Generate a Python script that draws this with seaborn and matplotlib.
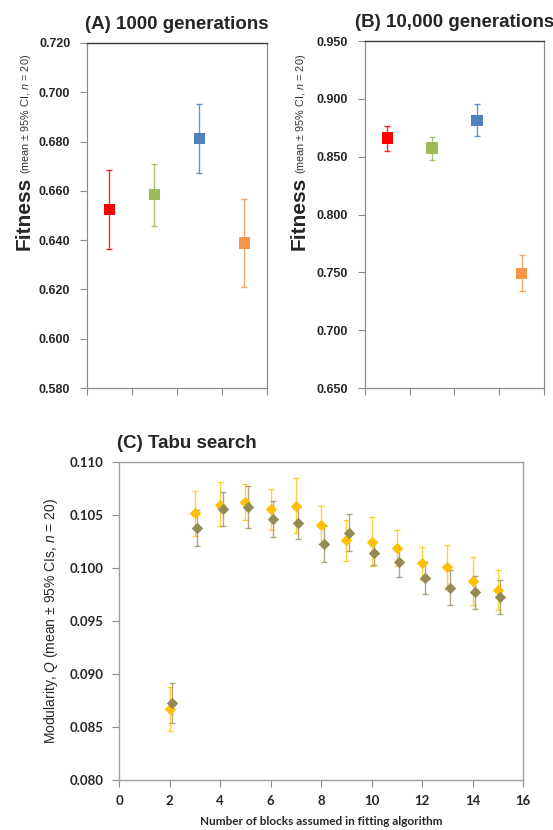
import numpy as np
import pandas as pd
import matplotlib
matplotlib.use("Agg")
import matplotlib.pyplot as plt
import seaborn as sns

# --------------------------
# Data
# --------------------------

groups = ["G1", "G2", "G3", "G4"]
group_colors = ["#ff0000", "#9bbb59", "#4f81bd", "#f79646"]

# (A) 1000 generations
fit_1000 = [0.6525, 0.6585, 0.6812, 0.6388]
fit_1000_lo = [0.6365, 0.6457, 0.6671, 0.6211]
fit_1000_hi = [0.6685, 0.6708, 0.6952, 0.6567]

# (B) 10,000 generations
fit_10000 = [0.8664, 0.8575, 0.8814, 0.7491]
fit_10000_lo = [0.8552, 0.8474, 0.8682, 0.7339]
fit_10000_hi = [0.8765, 0.8670, 0.8952, 0.7647]

# (C) Tabu search
blocks = [2, 3, 4, 5, 6, 7, 8, 9, 10, 11, 12, 13, 14, 15]
q_yellow = [0.08667, 0.10519, 0.10598, 0.10619, 0.10553, 0.10585, 0.10403,
            0.10261, 0.10245, 0.10186, 0.10044, 0.10010, 0.09874, 0.09792]
q_yellow_lo = [0.08462, 0.10305, 0.10393, 0.10456, 0.10358, 0.10327, 0.10226,
               0.10069, 0.10019, 0.10019, 0.09884, 0.09799, 0.09648, 0.09607]
q_yellow_hi = [0.08877, 0.10730, 0.10808, 0.10790, 0.10748, 0.10852, 0.10585,
               0.10456, 0.10481, 0.10358, 0.10201, 0.10220, 0.10104, 0.09984]
q_olive = [0.08730, 0.10374, 0.10553, 0.10572, 0.10462, 0.10421, 0.10230,
           0.10333, 0.10138, 0.10053, 0.09906, 0.09811, 0.09774, 0.09730]
q_olive_lo = [0.08540, 0.10208, 0.10393, 0.10377, 0.10292, 0.10277, 0.10060,
              0.10157, 0.10028, 0.09915, 0.09752, 0.09648, 0.09616, 0.09563]
q_olive_hi = [0.08920, 0.10547, 0.10714, 0.10774, 0.10635, 0.10579, 0.10396,
              0.10513, 0.10252, 0.10182, 0.10060, 0.09978, 0.09928, 0.09887]
olive_shift = 0.1

# --------------------------
# Style
# --------------------------

sns.set_style("white")
plt.rcParams["font.family"] = ["Liberation Sans", "DejaVu Sans"]
plt.rcParams["mathtext.fontset"] = "custom"
plt.rcParams["mathtext.rm"] = "Liberation Sans"
plt.rcParams["mathtext.it"] = "Liberation Sans:italic"
plt.rcParams["mathtext.bf"] = "Liberation Sans:bold"

spine_grey = "#8c8c8c"
fig = plt.figure(figsize=(5.53, 8.30), dpi=100)

ax_a = fig.add_axes([0.1573, 0.5325, 0.3255, 0.4157])
ax_b = fig.add_axes([0.6600, 0.5325, 0.3237, 0.4180])
ax_c = fig.add_axes([0.2152, 0.0602, 0.7306, 0.3831])


def fitness_panel(ax, means, lo, hi, ylim, step, title, label_x, label_y):
    df = pd.DataFrame({"group": groups, "fitness": means})
    for g, m, l, h, c in zip(groups, means, lo, hi, group_colors):
        ax.errorbar(g, m, yerr=[[m - l], [h - m]], fmt="none", ecolor=c,
                    elinewidth=1, capsize=2.5, capthick=1, alpha=0.85, zorder=2)
    sns.scatterplot(data=df, x="group", y="fitness", hue="group",
                    palette=group_colors, marker="s", s=70, linewidth=0,
                    legend=False, ax=ax, zorder=3)
    ax.set_xlim(-0.5, 3.5)
    ax.set_xticks([-0.5, 0.5, 1.5, 2.5, 3.5])
    ax.set_xticklabels([])
    ax.set_ylim(*ylim)
    ax.set_yticks(np.arange(ylim[0], ylim[1] + step / 2, step))
    ax.set_yticklabels([f"{v:.3f}" for v in ax.get_yticks()],
                       fontweight="bold", fontsize=9)
    ax.tick_params(axis="both", direction="out", length=5, width=0.8,
                   color=spine_grey, pad=7, left=True, bottom=True)
    ax.set_xlabel("")
    ax.set_ylabel("")
    for side in ["left", "bottom", "right"]:
        ax.spines[side].set_color(spine_grey)
        ax.spines[side].set_linewidth(0.9)
    ax.spines["top"].set_color("#3a3a3a")
    ax.spines["top"].set_linewidth(1.0)
    ax.set_title(title, fontsize=13.5, fontweight="bold", pad=10)

    # big "Fitness" followed by the small CI note, both rotated
    fit_txt = fig.text(label_x, label_y, "Fitness", rotation=90,
                       fontsize=15, fontweight="bold", ha="right", va="bottom")
    ax.annotate(r"(mean ± 95% CI, $\mathit{n}$ = 20)", xy=(1.0, 1.0),
                xycoords=fit_txt, xytext=(-1, 2), textcoords="offset points",
                rotation=90, fontsize=7.8, ha="right", va="bottom",
                color="#333333", annotation_clip=False)


fitness_panel(ax_a, fit_1000, fit_1000_lo, fit_1000_hi, (0.58, 0.72), 0.02,
              "(A) 1000 generations", 34 / 553, 1 - 250 / 830)
fitness_panel(ax_b, fit_10000, fit_10000_lo, fit_10000_hi, (0.65, 0.95), 0.05,
              "(B) 10,000 generations", 309 / 553, 1 - 250 / 830)

# --------------------------
# (C) Tabu search
# --------------------------

blocks_olive = [b + olive_shift for b in blocks]
ax_c.errorbar(blocks, q_yellow,
              yerr=[np.subtract(q_yellow, q_yellow_lo), np.subtract(q_yellow_hi, q_yellow)],
              fmt="none", ecolor="#ffc000", elinewidth=1, capsize=2, capthick=1,
              alpha=0.75, zorder=2)
ax_c.errorbar(blocks_olive, q_olive,
              yerr=[np.subtract(q_olive, q_olive_lo), np.subtract(q_olive_hi, q_olive)],
              fmt="none", ecolor="#948a54", elinewidth=1, capsize=2, capthick=1,
              alpha=0.75, zorder=2)
sns.scatterplot(x=blocks, y=q_yellow, color="#ffc000", marker="D", s=34,
                linewidth=0, ax=ax_c, zorder=3)
sns.scatterplot(x=blocks_olive, y=q_olive, color="#948a54", marker="D", s=34,
                linewidth=0, ax=ax_c, zorder=4)

ax_c.set_xlim(0, 16)
ax_c.set_xticks(range(0, 17, 2))
ax_c.set_ylim(0.08, 0.11)
ax_c.set_yticks(np.arange(0.08, 0.1101, 0.005))
ax_c.set_yticklabels([f"{v:.3f}" for v in ax_c.get_yticks()])
for lab in ax_c.get_xticklabels() + ax_c.get_yticklabels():
    lab.set_family(["Lato", "DejaVu Sans"])
    lab.set_fontweight("bold")
    lab.set_fontsize(9.5)
ax_c.tick_params(axis="both", direction="out", length=5, width=0.8,
                 color=spine_grey, pad=6, left=True, bottom=True)
for side in ["left", "bottom", "right", "top"]:
    ax_c.spines[side].set_color("#a0a0a0")
    ax_c.spines[side].set_linewidth(1.0)
ax_c.set_title("(C) Tabu search", fontsize=13.5, fontweight="bold", loc="left",
               x=-0.005, pad=10)
ax_c.set_ylabel(r"Modularity, $\mathit{Q}$ (mean ± 95% CIs, $\mathit{n}$ = 20)",
                fontsize=10, labelpad=7)
ax_c.set_xlabel("Number of blocks assumed in fitting algorithm",
                family=["Lato", "DejaVu Sans"], fontweight="bold", fontsize=8.5,
                labelpad=6)

plt.savefig("out.png", dpi=100)
plt.close()
